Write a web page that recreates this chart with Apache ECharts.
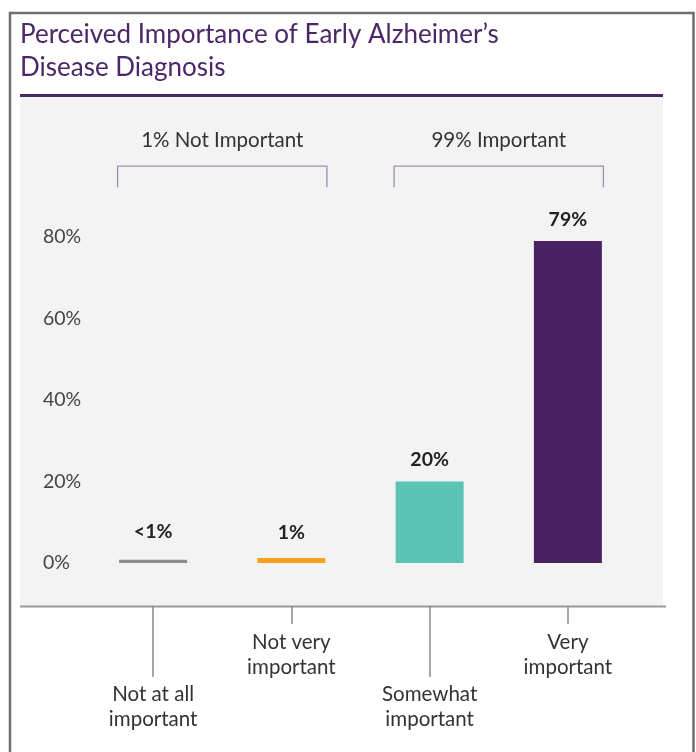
<!DOCTYPE html>
<html>
<head>
<meta charset="utf-8">
<script src="https://cdn.jsdelivr.net/npm/echarts@6/dist/echarts.min.js"></script>
<style>
html,body{margin:0;padding:0;background:#fff;}
#chart{width:696px;height:752px;}
</style>
</head>
<body>
<div id="chart"></div>
<script>
const titleText = "Perceived Importance of Early Alzheimer\u2019s\nDisease Diagnosis";
const categories = ["Not at all\nimportant", "Not very\nimportant", "Somewhat\nimportant", "Very\nimportant"];
const values = [0.8, 1.2, 20, 79];
const valueLabels = ["<1%", "1%", "20%", "79%"];
const barColors = ["#8c8c8c", "#f7a21b", "#5bc4b6", "#4a2263"];
const groups = [
  { from: 0, to: 1, label: "1% Not Important" },
  { from: 2, to: 3, label: "99% Important" }
];
const yTicks = [0, 20, 40, 60, 80];
const labelDistances = [18, 15, 12, 11];

const FONT = "Lato, 'Open Sans', sans-serif";
const chart = echarts.init(document.getElementById('chart'), null, { renderer: 'canvas' });

const option = {
  backgroundColor: '#ffffff',
  animation: false,
  title: {
    text: titleText,
    left: 20, top: 18, padding: 0,
    textStyle: { fontFamily: FONT, fontSize: 26, fontWeight: 'normal', color: '#4b2767', lineHeight: 33 }
  },
  graphic: [
    { type: 'rect', z: -10, shape: { x: 10, y: 13, width: 683.5, height: 760 }, style: { fill: 'none', stroke: '#6f6f6f', lineWidth: 2.5 } },
    { type: 'rect', z: -9, shape: { x: 20, y: 97, width: 643, height: 509 }, style: { fill: '#f3f3f3' } },
    { type: 'rect', z: -8, shape: { x: 20, y: 94, width: 643, height: 3 }, style: { fill: '#4b2767' } },
    { type: 'line', z: -8, shape: { x1: 20, y1: 606.5, x2: 666, y2: 606.5 }, style: { stroke: '#9a9a9a', lineWidth: 2 } }
  ],
  grid: { left: 84, right: 59, top: 237, bottom: 189 },
  xAxis: [
    {
      type: 'category', data: categories, position: 'bottom', offset: 43,
      axisLine: { show: false, onZero: false },
      axisTick: { show: true, alignWithLabel: true, length: 71, interval: (i) => i % 2 === 0, lineStyle: { color: '#8a8a8a', width: 1.5 } },
      axisLabel: { interval: (i) => i % 2 === 0, margin: 76, fontFamily: FONT, fontSize: 20.5, color: '#333', lineHeight: 25 }
    },
    {
      type: 'category', data: categories, position: 'bottom', offset: 43,
      axisLine: { show: false, onZero: false },
      axisTick: { show: true, alignWithLabel: true, length: 18, interval: (i) => i % 2 === 1, lineStyle: { color: '#8a8a8a', width: 1.5 } },
      axisLabel: { interval: (i) => i % 2 === 1, margin: 24, fontFamily: FONT, fontSize: 20.5, color: '#333', lineHeight: 25 }
    }
  ],
  yAxis: {
    type: 'value', min: 0, max: 80, interval: 20,
    axisLine: { show: false }, axisTick: { show: false }, splitLine: { show: false },
    axisLabel: { align: 'left', margin: 41, fontFamily: FONT, fontSize: 19.5, color: '#444', formatter: (v) => yTicks.includes(v) ? v + '%' : '' }
  },
  series: [
    {
      type: 'bar', xAxisIndex: 0, barWidth: 68,
      data: values.map((v, i) => ({ value: v, itemStyle: { color: barColors[i] }, label: { formatter: valueLabels[i], distance: labelDistances[i] } })),
      label: { show: true, position: 'top', fontFamily: FONT, fontSize: 19.5, fontWeight: 'bold', color: '#222' }
    },
    {
      type: 'custom', xAxisIndex: 0, clip: false, silent: true,
      data: groups.map(g => [g.from, g.to]),
      renderItem: function (params, api) {
        const g = groups[params.dataIndex];
        const band = api.size([1, 0])[0];
        const half = band * 0.257;
        const x1 = api.coord([g.from, 0])[0] - half;
        const x2 = api.coord([g.to, 0])[0] + half;
        const yTop = api.coord([0, 97.4])[1];
        const yBot = api.coord([0, 92.2])[1];
        const yText = api.coord([0, 103.8])[1];
        return {
          type: 'group',
          children: [
            { type: 'polyline', shape: { points: [[x1, yBot], [x1, yTop], [x2, yTop], [x2, yBot]] }, style: { fill: 'none', stroke: '#a18db6', lineWidth: 1.3 } },
            { type: 'text', x: (x1 + x2) / 2, y: yText, style: { text: g.label, fontFamily: FONT, fontSize: 20.5, fill: '#333', align: 'center', verticalAlign: 'middle' } }
          ]
        };
      }
    }
  ]
};
chart.setOption(option);
</script>
</body>
</html>
